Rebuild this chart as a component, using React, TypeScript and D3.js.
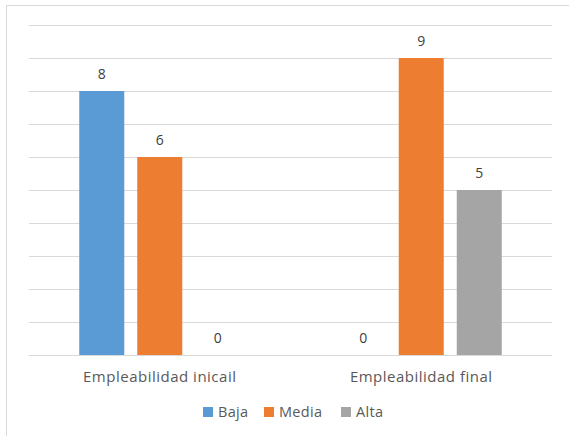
import React from "react";
import * as d3 from "d3";

const categories = ["Empleabilidad inicail", "Empleabilidad final"];
const seriesNames = ["Baja", "Media", "Alta"];
const baja = [8, 0];
const media = [6, 9];
const alta = [0, 5];
const yTicks = [0, 1, 2, 3, 4, 5, 6, 7, 8, 9, 10];
const colors = ["#5b9bd5", "#ed7d31", "#a5a5a5"];

const W = 569;
const H = 436;
const FONT = "'Open Sans', 'Noto Sans', sans-serif";

export default function App() {
  const seriesValues = [baja, media, alta];
  const plotLeft = 29;
  const plotRight = 552;
  const plotTop = 25;
  const plotBottom = 355;

  const y = d3.scaleLinear().domain([0, 10]).range([plotBottom, plotTop]);
  const x0 = d3.scaleBand<string>().domain(categories).range([plotLeft, plotRight]).padding(0);
  const groupW = 161;
  const x1 = d3
    .scaleBand<string>()
    .domain(seriesNames)
    .range([0, groupW])
    .paddingInner(0.224)
    .paddingOuter(0);

  const legendItems = [
    { name: "Baja", x: 203 },
    { name: "Media", x: 264 },
    { name: "Alta", x: 341 },
  ];

  return (
    <svg
      width={W}
      height={H}
      style={{ position: "absolute", left: 0, top: 0, background: "#fff" }}
    >
      <rect x={0} y={0} width={W} height={H} fill="#fff" />
      <rect x={6.5} y={5.5} width={W + 10} height={H + 10} fill="#fff" stroke="#d9d9d9" strokeWidth={1} />
      {yTicks.map((t) => (
        <line
          key={t}
          x1={plotLeft}
          x2={plotRight}
          y1={Math.round(y(t)) + 0.5}
          y2={Math.round(y(t)) + 0.5}
          stroke="#d9d9d9"
          strokeWidth={1}
        />
      ))}
      {categories.map((c, ci) => {
        const gx = (x0(c) as number) + x0.bandwidth() / 2 - groupW / 2;
        return (
          <g key={c} transform={`translate(${gx},0)`}>
            {seriesNames.map((s, si) => {
              const v = seriesValues[si][ci];
              const bx = x1(s) as number;
              return (
                <g key={s}>
                  {v > 0 && (
                    <rect
                      x={bx}
                      y={y(v)}
                      width={x1.bandwidth()}
                      height={y(0) - y(v)}
                      fill={colors[si]}
                    />
                  )}
                  <text
                    x={bx + x1.bandwidth() / 2}
                    y={y(v) - 12}
                    textAnchor="middle"
                    fontFamily={FONT}
                    fontSize={14}
                    fill="#404040"
                  >
                    {v}
                  </text>
                </g>
              );
            })}
          </g>
        );
      })}
      {categories.map((c) => (
        <text
          key={c}
          x={(x0(c) as number) + x0.bandwidth() / 2}
          y={382}
          textAnchor="middle"
          fontFamily={FONT}
          fontSize={15}
          letterSpacing={0.5}
          fill="#595959"
        >
          {c}
        </text>
      ))}
      {legendItems.map((it, i) => (
        <g key={it.name}>
          <rect x={it.x} y={407} width={10} height={10} fill={colors[i]} />
          <text
            x={it.x + 15}
            y={417}
            fontFamily={FONT}
            fontSize={14.5}
            letterSpacing={0.3}
            fill="#595959"
          >
            {it.name}
          </text>
        </g>
      ))}
    </svg>
  );
}
